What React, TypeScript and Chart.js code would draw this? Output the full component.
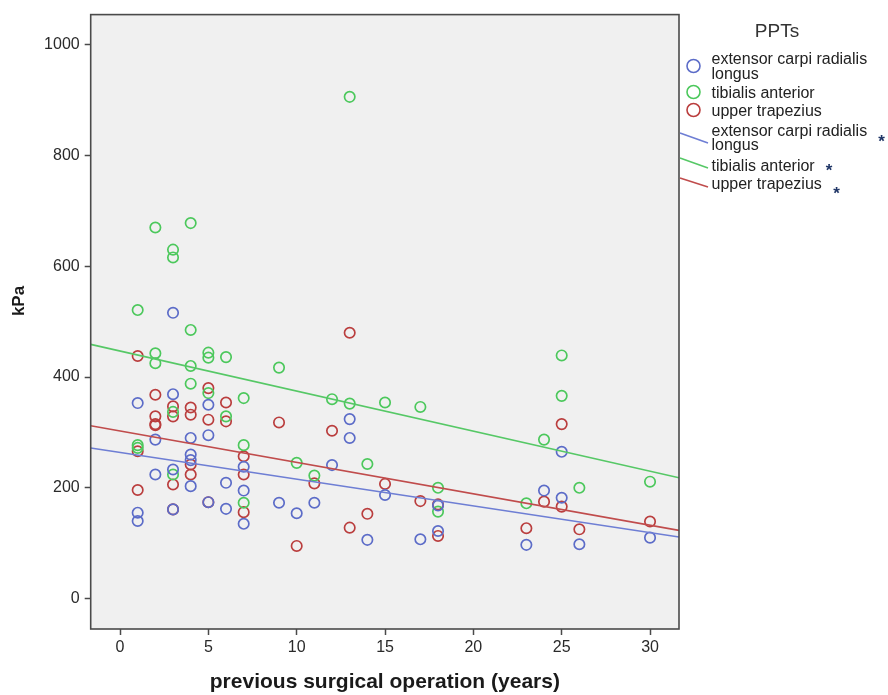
import React, { useEffect, useRef } from 'react';
import { Chart, registerables } from 'chart.js';

Chart.register(...registerables);

// ---- data ----
const ecrlYears = [1, 1, 1, 2, 2, 3, 3, 3, 3, 4, 4, 4, 4, 5, 5, 5, 6, 6, 7, 7, 7, 9, 10, 11, 12, 13, 13, 14, 15, 17, 18, 18, 23, 24, 25, 25, 26, 30];
const ecrlKPa = [353, 155, 140, 287, 224, 516, 369, 233, 161, 290, 260, 250, 203, 350, 295, 174, 209, 162, 238, 195, 135, 173, 154, 173, 241, 324, 290, 106, 187, 107, 168, 122, 97, 195, 265, 182, 98, 110];

const taYears = [1, 1, 1, 2, 2, 2, 3, 3, 3, 3, 4, 4, 4, 4, 5, 5, 5, 6, 6, 7, 7, 7, 9, 10, 11, 12, 13, 13, 14, 15, 17, 18, 18, 23, 24, 25, 25, 26, 30];
const taKPa = [521, 277, 272, 670, 443, 425, 630, 616, 337, 224, 678, 485, 420, 388, 444, 435, 371, 436, 329, 362, 277, 173, 417, 245, 222, 360, 906, 352, 243, 354, 346, 200, 157, 172, 287, 439, 366, 200, 211];

const utYears = [1, 1, 1, 2, 2, 2, 2, 3, 3, 3, 3, 4, 4, 4, 4, 5, 5, 5, 6, 6, 7, 7, 7, 9, 10, 11, 12, 13, 13, 14, 15, 17, 18, 18, 23, 24, 25, 25, 26, 30];
const utKPa = [438, 266, 196, 368, 329, 315, 313, 347, 329, 206, 161, 345, 332, 242, 224, 380, 323, 174, 354, 320, 257, 224, 156, 318, 95, 208, 303, 480, 128, 153, 207, 176, 170, 113, 127, 175, 315, 166, 125, 139];

// fit lines: values at the left and right edges of the plot
const fitYears = [-1.66, 31.64];
const ecrlFit = [272, 111];
const taFit = [459, 218];
const utFit = [312, 123];

const xTicks = [0, 5, 10, 15, 20, 25, 30];
const yTicks = [0, 200, 400, 600, 800, 1000];

const seriesNames = ['extensor carpi radialis longus', 'tibialis anterior', 'upper trapezius'];
const legendTitle = 'PPTs';
const xTitle = 'previous surgical operation (years)';
const yTitle = 'kPa';

// ---- styles ----
const FONT = '"Liberation Sans", Arial, sans-serif';
const BLUE = 'rgb(92,108,200)';
const GREEN = 'rgb(76,200,92)';
const RED = 'rgb(186,62,62)';
const BLUE_L = 'rgb(110,126,212)';
const GREEN_L = 'rgb(86,200,102)';
const RED_L = 'rgb(192,76,76)';

const pts = (xs: number[], ys: number[]) => xs.map((x, i) => ({ x, y: ys[i] }));

const framePlugin = {
  id: 'frame',
  beforeDraw(chart: any) {
    const { ctx, chartArea: a } = chart;
    ctx.save();
    ctx.fillStyle = '#f0f0f0';
    ctx.fillRect(a.left, a.top, a.right - a.left, a.bottom - a.top);
    ctx.restore();
  },
  afterDraw(chart: any) {
    const { ctx, chartArea: a } = chart;
    ctx.save();
    ctx.strokeStyle = '#4a4a4a';
    ctx.lineWidth = 1.6;
    ctx.strokeRect(a.left, a.top, a.right - a.left, a.bottom - a.top);

    // axis titles
    ctx.fillStyle = '#1a1a1a';
    ctx.font = `bold 21px ${FONT}`;
    ctx.textAlign = 'center';
    ctx.textBaseline = 'middle';
    ctx.fillText(xTitle, (a.left + a.right) / 2, 682);
    ctx.save();
    ctx.font = `bold 17px ${FONT}`;
    ctx.translate(19, 301);
    ctx.rotate(-Math.PI / 2);
    ctx.fillText(yTitle, 0, 0);
    ctx.restore();

    // legend
    ctx.fillStyle = '#333';
    ctx.font = `19px ${FONT}`;
    ctx.fillText(legendTitle, 777, 32);

    ctx.textAlign = 'left';
    ctx.font = `16px ${FONT}`;
    ctx.fillStyle = '#222';
    ctx.lineWidth = 1.6;
    const circ = (y: number, c: string) => {
      ctx.strokeStyle = c;
      ctx.beginPath();
      ctx.arc(693.5, y, 6.5, 0, Math.PI * 2);
      ctx.stroke();
    };
    circ(66, BLUE);
    circ(92, GREEN);
    circ(110, RED);
    ctx.fillText('extensor carpi radialis', 711.5, 60);
    ctx.fillText('longus', 711.5, 75);
    ctx.fillText(seriesNames[1], 711.5, 94);
    ctx.fillText(seriesNames[2], 711.5, 112);

    const seg = (y1: number, y2: number, c: string) => {
      ctx.strokeStyle = c;
      ctx.beginPath();
      ctx.moveTo(680, y1);
      ctx.lineTo(708, y2);
      ctx.stroke();
    };
    seg(133, 143, BLUE_L);
    seg(158, 168, GREEN_L);
    seg(178, 187, RED_L);
    ctx.fillStyle = '#222';
    ctx.fillText('extensor carpi radialis', 711.5, 132);
    ctx.fillText('longus', 711.5, 146);
    ctx.fillText(seriesNames[1], 711.5, 167);
    ctx.fillText(seriesNames[2], 711.5, 185);

    ctx.fillStyle = '#1f3566';
    ctx.font = `bold 17px ${FONT}`;
    ctx.textAlign = 'center';
    ctx.fillText('*', 881.5, 142);
    ctx.fillText('*', 829, 171);
    ctx.fillText('*', 836.5, 194);
    ctx.restore();
  },
};

export default function App() {
  const ref = useRef<HTMLCanvasElement | null>(null);

  useEffect(() => {
    if (!ref.current) return;
    const scatterStyle = (c: string) => ({
      type: 'scatter' as const,
      showLine: false,
      pointRadius: 5.2,
      pointHoverRadius: 5.2,
      pointBorderWidth: 1.7,
      pointBorderColor: c,
      pointBackgroundColor: 'rgba(0,0,0,0)',
      borderColor: c,
      backgroundColor: 'rgba(0,0,0,0)',
    });
    const lineStyle = (c: string) => ({
      type: 'line' as const,
      showLine: true,
      pointRadius: 0,
      borderWidth: 1.6,
      borderColor: c,
      fill: false,
    });
    const chart = new Chart(ref.current, {
      type: 'scatter',
      data: {
        datasets: [
          { label: seriesNames[0] + ' fit', data: pts(fitYears, ecrlFit), ...lineStyle(BLUE_L) },
          { label: seriesNames[1] + ' fit', data: pts(fitYears, taFit), ...lineStyle(GREEN_L) },
          { label: seriesNames[2] + ' fit', data: pts(fitYears, utFit), ...lineStyle(RED_L) },
          { label: seriesNames[0], data: pts(ecrlYears, ecrlKPa), ...scatterStyle(BLUE) },
          { label: seriesNames[1], data: pts(taYears, taKPa), ...scatterStyle(GREEN) },
          { label: seriesNames[2], data: pts(utYears, utKPa), ...scatterStyle(RED) },
        ] as any,
      },
      options: {
        animation: false,
        responsive: false,
        events: [],
        layout: { padding: { top: 11.7, right: 209, left: 0, bottom: 0 } },
        plugins: { legend: { display: false }, tooltip: { enabled: false }, title: { display: false } },
        scales: {
          x: {
            type: 'linear',
            min: fitYears[0],
            max: fitYears[1],
            afterBuildTicks: (s: any) => { s.ticks = xTicks.map((v) => ({ value: v })); },
            afterFit: (s: any) => { s.height = 66; },
            grid: { drawOnChartArea: false, drawTicks: true, tickLength: 6, tickColor: '#4a4a4a', tickWidth: 1.5 },
            border: { display: false },
            ticks: { color: '#2a2a2a', font: { family: FONT, size: 16 }, padding: 3, maxRotation: 0, autoSkip: false, callback: (v: any) => String(v) },
          },
          y: {
            type: 'linear',
            min: -55,
            max: 1054.5,
            afterBuildTicks: (s: any) => { s.ticks = yTicks.map((v) => ({ value: v })); },
            afterFit: (s: any) => { s.width = 90.7; },
            grid: { drawOnChartArea: false, drawTicks: true, tickLength: 6, tickColor: '#4a4a4a', tickWidth: 1.5 },
            border: { display: false },
            ticks: { color: '#2a2a2a', font: { family: FONT, size: 16 }, padding: 5, autoSkip: false, callback: (v: any) => String(v) },
          },
        },
      },
      plugins: [framePlugin],
    } as any);
    return () => chart.destroy();
  }, []);

  return (
    <div style={{ position: 'fixed', left: 0, top: 0, width: 888, height: 695, background: '#fff' }}>
      <canvas ref={ref} width={888} height={695} style={{ display: 'block' }} />
    </div>
  );
}
